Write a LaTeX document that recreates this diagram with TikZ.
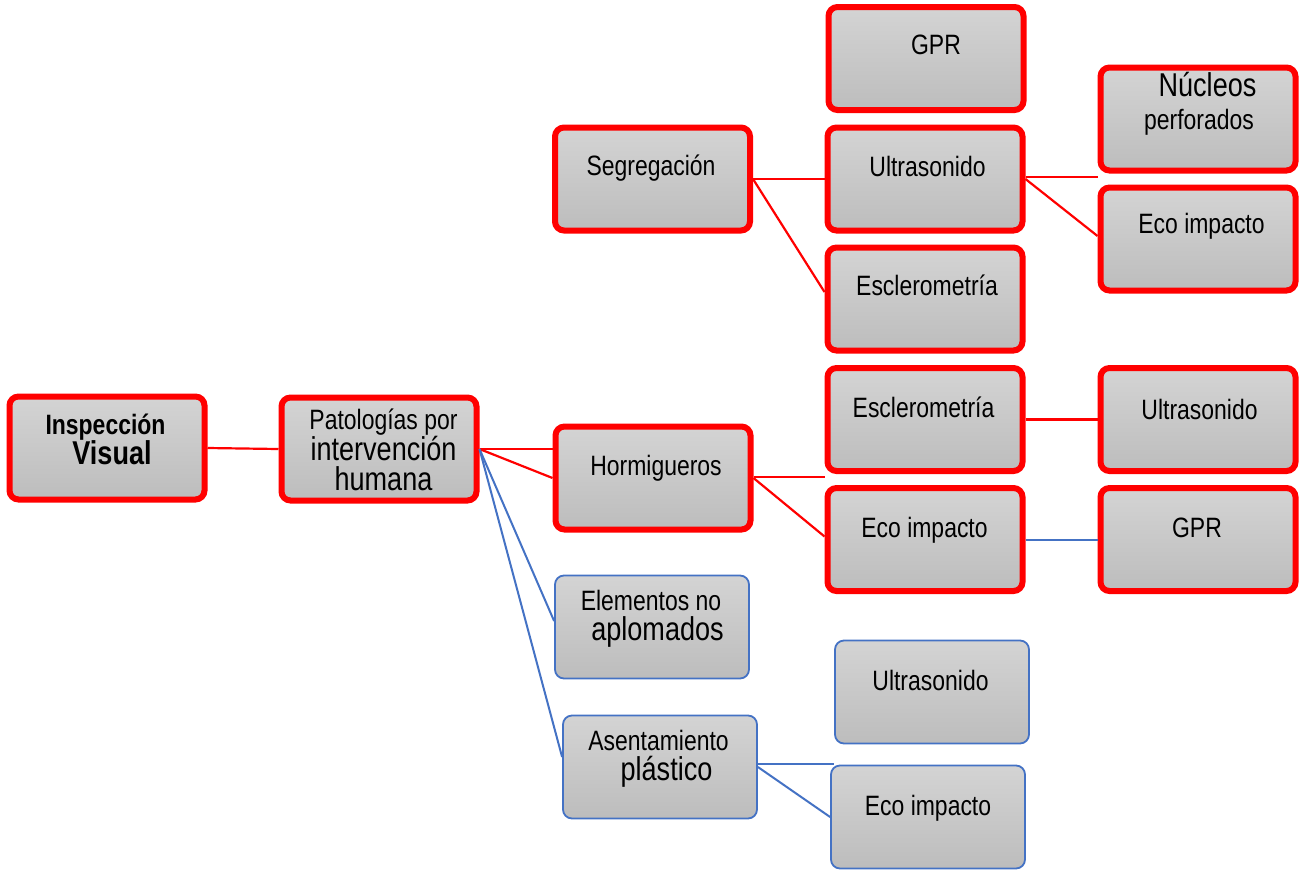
\documentclass[tikz,border=0pt]{standalone}
\usepackage{fontspec}
\setmainfont{Liberation Sans}[FakeStretch=0.82]
\newcommand\grande{\fontsize{33}{30}\selectfont}
\definecolor{azul}{HTML}{4472C4}

\begin{document}
\begin{tikzpicture}
[
	x=1pt, y=-1pt,
% Box style
	caja/.style={
		rectangle,
		rounded corners=9pt,
		minimum width=195pt,
		minimum height=103pt,
		top color=black!17,
		bottom color=black!26,
		inner sep=0pt},
	redbox/.style={caja, draw=red, line width=6pt},
	bluebox/.style={caja, draw=azul, line width=1.8pt, minimum width=194pt},
% Text style
	txt/.style={
		anchor=base,
		inner sep=0pt,
		font=\fontsize{28}{30}\selectfont},
	txtb/.style={txt, anchor=center, align=center},
% Connector styles
	redline/.style={red, line width=2.2pt},
	blueline/.style={azul, line width=2pt},
]
\useasboundingbox (0,0) rectangle (1299,871);

% Root and first level
\node[redbox] (insp) at (107,448) {};
\node[redbox] (pat) at (379,449) {};

% Second level
\node[redbox] (seg) at (652.5,179) {};
\node[redbox] (hor) at (653,478) {};
\node[bluebox] (ele) at (652,627) {};
\node[bluebox] (ase) at (660,767) {};

% Third level
\node[redbox] (gpr1) at (926,58.5) {};
\node[redbox] (ult1) at (925,179) {};
\node[redbox] (esc1) at (925,299) {};
\node[redbox] (esc2) at (925,419.5) {};
\node[redbox] (eco2) at (925,539.5) {};
\node[bluebox] (ult3) at (932,692) {};
\node[bluebox] (eco3) at (928,817) {};

% Fourth level
\node[redbox] (nuc) at (1198,119) {};
\node[redbox] (eco1) at (1198,239) {};
\node[redbox] (ult2) at (1198,419.5) {};
\node[redbox] (gpr2) at (1198,539.5) {};

% Texts
\node[txtb, font=\bfseries\fontsize{28}{30}\selectfont] (insp-t) at (105.5,439.5)
	{Inspección\\\hspace*{13pt}{\grande Visual}};
\node[txtb] (pat-t) at (383.5,450)
	{Patologías por\\{\grande intervención}\\{\grande humana}};
\node[txt] (seg-t) at (651,175) {Segregación};
\node[txt] (hor-t) at (656,475) {Hormigueros};
\node[txtb] (ele-t) at (651,618.5)
	{Elementos no\\\hspace*{13pt}{\grande aplomados}};
\node[txtb] (ase-t) at (658.5,759)
	{Asentamiento\\\hspace*{16pt}{\grande plástico}};
\node[txt] (gpr1-t) at (936,54) {GPR};
\node[txt] (ult1-t) at (927.5,176) {Ultrasonido};
\node[txt] (esc1-t) at (927,295) {Esclerometría};
\node[txt] (esc2-t) at (923.5,417) {Esclerometría};
\node[txt] (eco2-t) at (924.5,537) {Eco impacto};
\node[txt] (ult3-t) at (930.5,690) {Ultrasonido};
\node[txt] (eco3-t) at (928,815) {Eco impacto};
\node[txtb] (nuc-t) at (1199,104)
	{\hspace*{17pt}{\grande Núcleos}\\[3pt]perforados};
\node[txt] (eco1-t) at (1201.5,233) {Eco impacto};
\node[txt] (ult2-t) at (1199.5,419) {Ultrasonido};
\node[txt] (gpr2-t) at (1197,537) {GPR};

% Free ends of the straight branches
\coordinate (ult1-end) at (ult1.east -| nuc.west);
\coordinate (hor-end) at (hor.east -| esc2.west);
\coordinate (ase-end) at (ase.east -| ult3.west);

% Connectors
\draw[redline] (insp.east) -- (pat.west);
\draw[redline] (pat.east) -- (pat.east -| hor.west);
\draw[redline] (pat.east) -- (hor.west);
\draw[blueline] (pat.east) -- ([yshift=6pt]ele.west);
\draw[blueline] (pat.east) -- ([yshift=10pt]ase.west);

\draw[redline] (seg.east) -- (ult1.west);
\draw[redline] (seg.east) -- ([yshift=7pt]esc1.west);
\draw[redline] ([yshift=2pt]ult1.east) -- ([yshift=2pt]ult1-end);
\draw[redline] (ult1.east) -- ([yshift=3pt]eco1.west);

\draw[redline] (esc2.east) -- (ult2.west);
\draw[redline] ([yshift=1pt]hor.east) -- ([yshift=1pt]hor-end);
\draw[redline] (hor.east) -- ([yshift=3pt]eco2.west);
\draw[blueline] (eco2.east) -- (gpr2.west);

\draw[blueline] ([yshift=3pt]ase.east) -- ([yshift=3pt]ase-end);
\draw[blueline] (ase.east) -- (eco3.west);

\end{tikzpicture}
\end{document}
